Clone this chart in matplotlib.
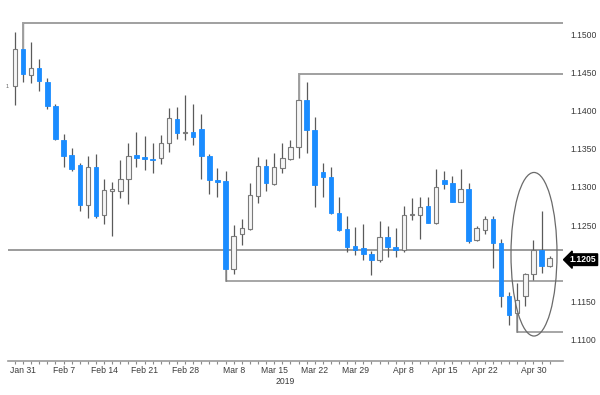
import matplotlib
matplotlib.use("Agg")
import matplotlib.pyplot as plt
from matplotlib.patches import Ellipse
import numpy as np

dates = ["Jan 30","Jan 31","Feb 1","Feb 4","Feb 5","Feb 6","Feb 7","Feb 8","Feb 11","Feb 12",
         "Feb 13","Feb 14","Feb 15","Feb 18","Feb 19","Feb 20","Feb 21","Feb 22","Feb 25","Feb 26",
         "Feb 27","Feb 28","Mar 1","Mar 4","Mar 5","Mar 6","Mar 7","Mar 8","Mar 11","Mar 12",
         "Mar 13","Mar 14","Mar 15","Mar 18","Mar 19","Mar 20","Mar 21","Mar 22","Mar 25","Mar 26",
         "Mar 27","Mar 28","Mar 29","Apr 1","Apr 2","Apr 3","Apr 4","Apr 5","Apr 8","Apr 9",
         "Apr 10","Apr 11","Apr 12","Apr 15","Apr 16","Apr 17","Apr 18","Apr 19","Apr 22","Apr 23",
         "Apr 24","Apr 25","Apr 26","Apr 29","Apr 30","May 1","May 2"]

opens = [1.1432,1.1480,1.1447,1.1456,1.1437,1.1406,1.1362,1.1342,1.1329,1.1276,
         1.1326,1.1263,1.1295,1.1295,1.1311,1.1342,1.1339,1.1337,1.1338,1.1358,
         1.1389,1.1370,1.1372,1.1376,1.1341,1.1309,1.1308,1.1193,1.1239,1.1245,
         1.1288,1.1327,1.1304,1.1325,1.1336,1.1352,1.1414,1.1375,1.1319,1.1313,
         1.1266,1.1245,1.1223,1.1220,1.1213,1.1205,1.1234,1.1222,1.1218,1.1263,
         1.1264,1.1275,1.1253,1.1309,1.1305,1.1281,1.1297,1.1231,1.1244,1.1258,
         1.1227,1.1157,1.1135,1.1157,1.1186,1.1218,1.1197]
highs = [1.1502,1.1514,1.1489,1.1467,1.1442,1.1409,1.1369,1.1351,1.1331,1.1341,
         1.1343,1.1310,1.1306,1.1335,1.1357,1.1372,1.1367,1.1357,1.1368,1.1403,
         1.1404,1.1420,1.1409,1.1395,1.1343,1.1325,1.1321,1.1250,1.1258,1.1305,
         1.1339,1.1337,1.1344,1.1358,1.1362,1.1448,1.1437,1.1391,1.1331,1.1326,
         1.1287,1.1262,1.1248,1.1251,1.1216,1.1256,1.1249,1.1246,1.1275,1.1285,
         1.1287,1.1287,1.1324,1.1321,1.1315,1.1324,1.1305,1.1249,1.1262,1.1262,
         1.1232,1.1163,1.1174,1.1188,1.1231,1.1268,1.1210]
lows = [1.1407,1.1437,1.1436,1.1425,1.1402,1.1362,1.1326,1.1321,1.1269,1.1259,
        1.1260,1.1251,1.1236,1.1285,1.1278,1.1326,1.1322,1.1318,1.1330,1.1346,
        1.1363,1.1361,1.1355,1.1310,1.1291,1.1287,1.1177,1.1186,1.1224,1.1244,
        1.1279,1.1295,1.1302,1.1318,1.1335,1.1338,1.1344,1.1274,1.1287,1.1265,
        1.1243,1.1215,1.1211,1.1205,1.1185,1.1202,1.1208,1.1208,1.1215,1.1257,
        1.1232,1.1253,1.1252,1.1297,1.1280,1.1280,1.1227,1.1230,1.1239,1.1194,
        1.1143,1.1120,1.1111,1.1144,1.1178,1.1188,1.1195]
closes = [1.1481,1.1448,1.1456,1.1438,1.1406,1.1363,1.1341,1.1323,1.1276,1.1326,
          1.1262,1.1296,1.1297,1.1311,1.1341,1.1338,1.1337,1.1335,1.1358,1.1390,
          1.1370,1.1372,1.1365,1.1341,1.1309,1.1307,1.1193,1.1236,1.1246,1.1289,
          1.1328,1.1305,1.1326,1.1338,1.1352,1.1414,1.1375,1.1303,1.1313,1.1266,
          1.1244,1.1222,1.1218,1.1213,1.1205,1.1234,1.1222,1.1217,1.1264,1.1265,
          1.1274,1.1253,1.1300,1.1304,1.1281,1.1297,1.1230,1.1246,1.1258,1.1227,
          1.1157,1.1133,1.1152,1.1186,1.1218,1.1197,1.1207]

tick_label_dates = ["Jan 31","Feb 7","Feb 14","Feb 21","Feb 28","Mar 8","Mar 15","Mar 22",
                    "Mar 29","Apr 8","Apr 15","Apr 22","Apr 30"]
# 1.1200 is hidden behind the last-price tag in the reference
y_ticks = [1.1100,1.1150,1.1250,1.1300,1.1350,1.1400,1.1450,1.1500]

# levels
level_top = ("Jan 31", 1.1514)
level_mar = ("Mar 20", 1.1448)
level_mid = 1.1217
level_low1 = ("Mar 7", 1.1177)
level_low2 = ("Apr 26", 1.1111)
last_price = 1.1205

BLUE = "#1a8cff"
WICK = "#5a5a5a"
LINE = "#8e8e8e"
TXT = "#3a3a3a"

plt.rcParams['font.family'] = ['Liberation Sans', 'DejaVu Sans']

fig = plt.figure(figsize=(6.0, 3.95), dpi=100)
ax = fig.add_axes([8/600, 34/395, 555/600, 351/395])

x = np.arange(len(dates))
o = np.array(opens); h = np.array(highs); l = np.array(lows); c = np.array(closes)
up = c >= o

ax.vlines(x, l, h, color=WICK, lw=0.9, zorder=2)
body_bottom = np.minimum(o, c)
body_h = np.maximum(np.abs(c - o), 0.00005)
ax.bar(x[up], body_h[up], bottom=body_bottom[up], width=0.55,
       color="#f6f6f6", edgecolor="#7a7a7a", linewidth=0.8, zorder=3)
ax.bar(x[~up], body_h[~up], bottom=body_bottom[~up], width=0.55,
       color=BLUE, edgecolor=BLUE, linewidth=0.6, zorder=3)

xmin, xmax = -0.86, 67.65
ax.set_xlim(xmin, xmax)
ax.set_ylim(1.15 - (361-34)/7650, 1.15 + (34-10)/7650)

def idx(d):
    return dates.index(d)

# levels with anchors
for (d, p), col, lw in [(level_top, "#a0a0a0", 1.4), (level_mar, "#a0a0a0", 1.4),
                        (level_low1, LINE, 1.1), (level_low2, LINE, 1.1)]:
    i = idx(d)
    ax.plot([i, xmax], [p, p], color=col, lw=lw, zorder=1, solid_capstyle='butt')
    body_edge = max(o[i], c[i]) if p > max(o[i], c[i]) else min(o[i], c[i])
    ax.plot([i, i], [p, body_edge], color=col, lw=lw, zorder=2.5)
ax.plot([xmin, xmax], [level_mid, level_mid], color="#808080", lw=1.1, zorder=1)

# ellipse
ax.add_patch(Ellipse((64.07, 1.12121), 5.68, 0.02138, fill=False,
                     edgecolor="#6a6a6a", lw=0.9, zorder=4))

# axes styling
for s in ["top", "left", "right"]:
    ax.spines[s].set_visible(False)
ax.spines["bottom"].set_color("#9a9a9a")
ax.spines["bottom"].set_linewidth(1.2)

ax.yaxis.tick_right()
ax.set_yticks(y_ticks)
ax.set_yticklabels([f"{v:.4f}" for v in y_ticks])
ax.tick_params(axis='y', length=0, pad=5, labelsize=6.2, labelcolor=TXT)

ax.set_xticks([idx(d) for d in tick_label_dates])
ax.set_xticklabels(tick_label_dates)
ax.set_xticks(x, minor=True)
ax.tick_params(axis='x', which='both', length=2.5, width=0.8, color="#8a8a8a",
               direction='out', labelsize=6.2, labelcolor=TXT, pad=1.0)

ax.text(33.3, -0.058, "2019", transform=ax.get_xaxis_transform(), ha='center',
        va='center', fontsize=6.2, color=TXT)

# last price tag
ax.text(1.012, last_price, f"{last_price:.4f}", transform=ax.get_yaxis_transform(),
        ha='left', va='center', fontsize=6.2, color='white', fontweight='bold',
        bbox=dict(boxstyle='larrow,pad=0.15', facecolor='black', edgecolor='black'),
        zorder=6, clip_on=False)

fig.text(7.5/600, 1 - 87/395, "1", fontsize=4, color="#666666", ha='center', va='center')

fig.savefig("out.png", dpi=100)
